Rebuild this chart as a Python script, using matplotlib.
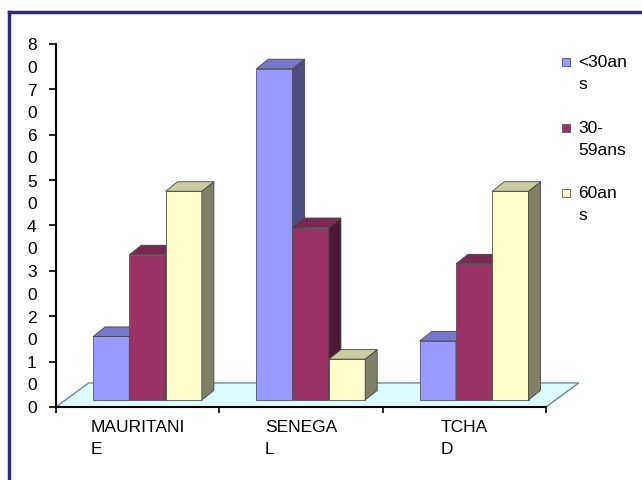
import matplotlib.pyplot as plt
from matplotlib.patches import Polygon, Rectangle
from matplotlib.transforms import offset_copy

plt.rcParams['font.family'] = ['Liberation Sans', 'DejaVu Sans']

# donnees
categories = ['MAURITANI\nE', 'SENEGA\nL', 'TCHA\nD']
series = ['<30an\ns', '30-\n59ans', '60an\ns']
moins_30 = [14, 73, 13]
de_30_59 = [32, 38, 30]
plus_60 = [46, 9, 46]
yticks = [0, 10, 20, 30, 40, 50, 60, 70, 80]
ytick_labels = ['0', '1\n0', '2\n0', '3\n0', '4\n0', '5\n0', '6\n0', '7\n0', '8\n0']

# couleurs facon Excel : face, cote, dessus
face = ['#9999FF', '#993366', '#FFFFCC']
cote = ['#4E4E80', '#4C1A33', '#808068']
dessus = ['#7777CC', '#7A2952', '#CCCCA3']

W, H = 642, 480
fig = plt.figure(figsize=(W / 100, H / 100), dpi=100)
ax = fig.add_axes([56 / W, 73 / H, 490 / W, 363 / H])
ax.set_xlim(0, 3)
ax.set_ylim(0, 80)

# cadre bleu (haut et gauche)
fig.add_artist(plt.Line2D([9 / W, 1], [1 - 12 / H, 1 - 12 / H], color='#2B2B84', lw=2.5))
fig.add_artist(plt.Line2D([9 / W, 9 / W], [0, 1 - 12 / H], color='#2B2B84', lw=2.5))

# sol en perspective
fx, fy = 0.2, 5.3
ax.add_patch(Polygon([(0, 0), (3, 0), (3 + fx, fy), (fx, fy)], closed=True,
                     facecolor='#DDFBFF', edgecolor='#6E8A8C', lw=1, zorder=1, clip_on=False))

# barres 3D
bw = 0.222
x0 = 0.227
oy = 1.55             # decalage de la face avant par rapport au bord du sol
dx, dy = 0.0735, 2.1  # profondeur des barres
valeurs = [moins_30, de_30_59, plus_60]
for c in range(len(categories)):
    for s in range(len(series)):
        v = valeurs[s][c]
        left = c + x0 + s * bw
        z = 3 + c * 3 + s
        ax.bar(left, v, width=bw, bottom=oy, align='edge', color=face[s],
               edgecolor='#555555', lw=0.6, zorder=z)
        r = left + bw
        top = oy + v
        ax.add_patch(Polygon([(r, oy), (r + dx, oy + dy), (r + dx, top + dy), (r, top)],
                             closed=True, facecolor=cote[s], edgecolor='#444444', lw=0.6,
                             zorder=z, clip_on=False))
        ax.add_patch(Polygon([(left, top), (r, top), (r + dx, top + dy), (left + dx, top + dy)],
                             closed=True, facecolor=dessus[s], edgecolor='#444444', lw=0.6,
                             zorder=z, clip_on=False))

# axes
for side in ['top', 'right']:
    ax.spines[side].set_visible(False)
ax.spines['left'].set_linewidth(1.5)
ax.spines['bottom'].set_linewidth(1.5)
ax.spines['left'].set_zorder(20)
ax.spines['bottom'].set_zorder(20)
ax.set_yticks(yticks)
ax.set_yticklabels([])
ax.set_xticks([0, 1, 2, 3])
ax.set_xticklabels([])
ax.tick_params(axis='y', direction='out', length=5, width=1.2)
ax.tick_params(axis='x', direction='out', length=4, width=1.2)

fs = 12.5
tr_y = offset_copy(ax.get_yaxis_transform(), fig=fig, x=-14, y=4, units='points')
for t, lab in zip(yticks, ytick_labels):
    ax.text(0, t, lab, transform=tr_y, ha='right', va='top', fontsize=fs,
            linespacing=1.6, clip_on=False)

tr_x = offset_copy(ax.get_xaxis_transform(), fig=fig, x=0, y=-9, units='points')
for c, lab in enumerate(categories):
    ax.text(c + 0.5, 0, lab, transform=tr_x, ha='center', va='top', fontsize=fs,
            multialignment='left', linespacing=1.6, clip_on=False)

# legende
leg_y = [62, 128, 193]
for s in range(len(series)):
    y = leg_y[s]
    fig.add_artist(Rectangle((562 / W, 1 - (y + 4) / H), 8 / W, 8 / H, transform=fig.transFigure,
                             facecolor=face[s], edgecolor='#555555', lw=0.6))
    fig.text(578 / W, 1 - (y - 7) / H, series[s], ha='left', va='top', fontsize=fs,
             linespacing=1.6)

fig.savefig('out.png', dpi=100)
